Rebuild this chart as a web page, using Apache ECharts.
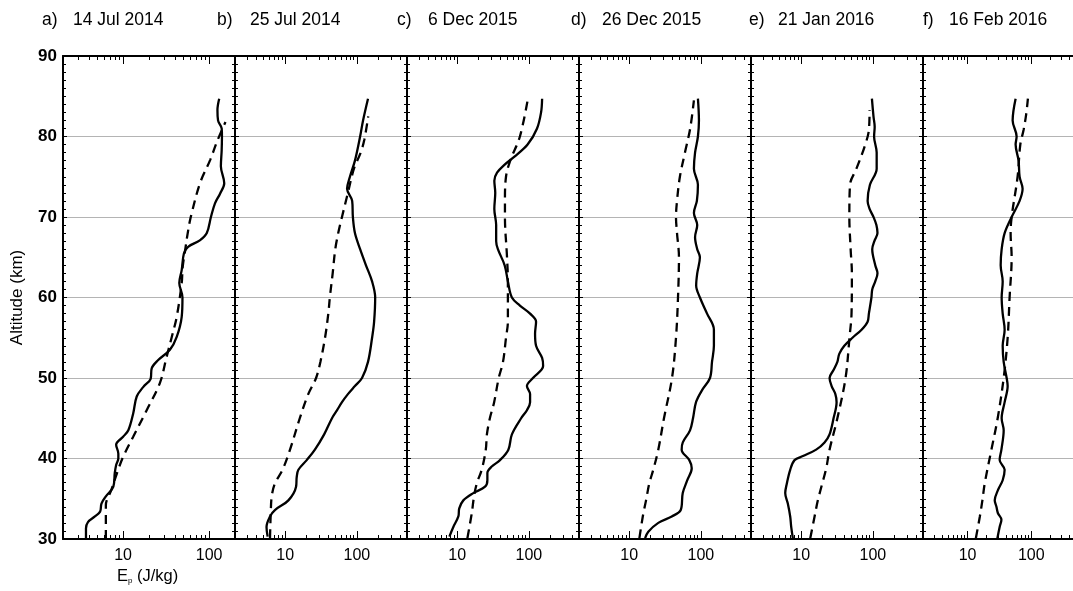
<!DOCTYPE html>
<html>
<head>
<meta charset="utf-8">
<script src="https://cdn.jsdelivr.net/npm/echarts@6/dist/echarts.min.js"></script>
<style>
  html, body { margin: 0; padding: 0; background: #ffffff; overflow: hidden; }
  #main { width: 1100px; height: 591px; }
</style>
</head>
<body>
<div id="main"></div>
<script>
// Potential energy profiles Ep (J/kg) versus altitude (km), six soundings.
const panelTags = ['a)', 'b)', 'c)', 'd)', 'e)', 'f)'];
const panelDates = ['14 Jul 2014', '25 Jul 2014', '6 Dec 2015', '26 Dec 2015', '21 Jan 2016', '16 Feb 2016'];
const epMin = 2;
const epMax = [200, 500, 500, 500, 500, 1000];
const epLabels = [10, 100];
const altMin = 30, altMax = 90, altStep = 10;

// a) 14 Jul 2014
const altA = [30.0, 31.3, 32.1, 32.8, 33.4, 34.4, 35.3, 36.5, 38.2, 39.2, 40.0, 40.6, 41.7, 42.7, 43.5, 45.6, 47.7, 48.9, 49.9, 51.2, 52.2, 53.5, 55.1, 57.6, 60.0, 61.8, 63.4, 65.5, 66.3, 67.1, 68.0, 70.0, 71.7, 72.9, 74.2, 76.3, 78.3, 80.0, 81.0, 82.0, 83.3, 84.7];
const epA  = [3.7, 3.7, 3.9, 4.7, 5.4, 5.6, 6.3, 7.7, 8.0, 8.3, 8.8, 8.8, 8.3, 10.0, 11.5, 13.1, 14.4, 17.2, 20.9, 21.5, 25.4, 35, 42, 48, 49, 45, 48, 51, 57, 78, 94, 105, 117, 134, 150, 137, 140, 141, 140, 127, 125, 131];
const altFitA = [30.0, 34.2, 36.1, 38.2, 40.2, 42.7, 46.0, 49.4, 52.6, 55.1, 57.6, 61.8, 63.8, 65.9, 68.0, 70.0, 74.2, 77.1, 79.5, 81.8];
const epFitA  = [6.3, 6.3, 7.3, 8.5, 10.0, 13.1, 18.8, 26.8, 32, 36.8, 42, 48, 49.3, 52.7, 56.4, 61.2, 78.4, 103, 125, 155];

// b) 25 Jul 2014
const altB = [30.3, 31.5, 32.8, 33.6, 34.8, 36.5, 37.7, 38.6, 39.8, 41.1, 43.0, 45.0, 46.0, 47.0, 48.0, 49.0, 50.0, 52.0, 55.0, 57.0, 60.0, 62.0, 64.0, 66.0, 68.0, 70.0, 72.0, 73.5, 75.0, 77.0, 80.0, 82.0, 84.7];
const epB  = [5.7, 5.5, 6.15, 7.2, 11.1, 14.2, 14.5, 15.3, 20, 26, 35, 45, 53, 62, 75, 94, 118, 143, 163, 174, 180, 163, 134, 111, 94, 88, 86, 73, 80, 94, 111, 122, 143];
const altFitB = [30.1, 33.2, 35.3, 36.9, 38.6, 41.1, 45.0, 48.0, 50.0, 52.0, 55.0, 58.0, 60.0, 63.0, 66.0, 68.0, 70.0, 73.0, 76.0, 78.0, 79.6, 82.5];
const epFitB  = [6.15, 6.3, 6.5, 7.2, 9.2, 11.7, 16, 21, 27, 31, 36, 40, 42, 46, 50, 55, 62, 75, 91, 113, 127, 144];

// c) 6 Dec 2015
const altC = [30.3, 31.5, 32.8, 33.8, 34.8, 35.7, 36.5, 37.3, 38.2, 39.0, 39.8, 41.1, 43.0, 45.0, 46.0, 47.0, 48.0, 49.0, 50.0, 51.5, 52.5, 54.0, 55.5, 57.0, 58.0, 59.0, 60.0, 62.0, 64.0, 66.0, 67.0, 69.0, 71.0, 73.0, 74.5, 75.5, 76.5, 77.5, 79.0, 81.0, 83.0, 84.7];
const epC  = [7.8, 8.85, 10.4, 10.7, 12.2, 16.8, 24.5, 26.4, 26.4, 30.4, 39.6, 51.8, 58, 78, 94, 104, 104, 94, 114, 158, 153, 126, 122, 126, 104, 75, 58, 51, 46, 37, 35, 35, 33, 34, 33, 36, 46, 63, 96, 130, 148, 153];
const altFitC = [30.1, 33.2, 35.3, 36.9, 38.6, 41.1, 43.0, 45.0, 47.0, 50.0, 52.0, 55.0, 57.0, 60.0, 62.0, 65.0, 70.0, 72.0, 75.0, 77.0, 80.0, 84.7];
const epFitC  = [13.9, 16.0, 17.2, 18.8, 22.0, 25.1, 26, 28.6, 32.8, 38, 43.6, 48, 51, 51, 51, 49.6, 46.4, 46.4, 48, 55, 75, 97];

// d) 26 Dec 2015
const altD = [30.1, 30.9, 32.0, 32.8, 33.6, 35.7, 37.3, 38.8, 39.8, 41.1, 42.0, 43.5, 45.0, 47.0, 48.5, 50.0, 52.0, 54.0, 56.0, 58.0, 60.0, 61.5, 63.0, 65.0, 66.0, 67.5, 69.0, 70.5, 72.0, 74.0, 76.0, 78.0, 80.0, 82.0, 84.7];
const epD  = [16.7, 18.5, 25.5, 39.3, 52.4, 55.9, 64.7, 74.6, 69, 54, 56, 70.6, 77.7, 85.6, 104, 134, 143, 152, 152, 122, 97, 86, 89, 97, 89, 83, 89, 80, 88, 91, 80, 83, 91, 94, 91];
const altFitD = [30.1, 32.8, 34.8, 36.9, 38.6, 41.1, 45.0, 50.0, 55.0, 60.0, 65.0, 68.0, 70.0, 72.0, 75.0, 78.0, 81.0, 84.5];
const epFitD  = [13.9, 15.5, 17.2, 19.1, 21.7, 25.5, 30.6, 39.6, 45, 48, 49.5, 46.5, 45, 46.5, 51, 60, 71, 80];

// e) 21 Jan 2016
const altE = [30.1, 31.5, 32.8, 34.4, 35.7, 36.9, 38.6, 39.8, 40.3, 41.1, 42.0, 43.0, 45.0, 47.0, 48.0, 49.0, 50.0, 51.0, 52.0, 53.0, 54.0, 55.0, 56.0, 57.0, 58.0, 60.0, 61.0, 62.0, 63.0, 64.0, 66.0, 67.0, 68.0, 69.0, 70.0, 71.0, 72.0, 74.0, 76.0, 78.0, 80.0, 81.2, 82.5, 84.7];
const epE  = [7.66, 7.27, 7.04, 6.52, 6.0, 6.32, 7.04, 8.09, 10.6, 16.2, 21.2, 24.9, 28.3, 31.2, 30, 26.6, 24.9, 28.3, 32, 34, 40, 52, 69.6, 84.5, 88, 95.5, 98, 108, 116, 108, 98, 105, 116, 112, 102, 90, 84.5, 91, 113, 113, 104, 106, 102, 97];
const altFitE = [30.1, 32.8, 34.8, 36.9, 38.8, 41.1, 45.0, 50.0, 55.0, 58.0, 63.0, 66.0, 70.0, 74.0, 76.0, 78.8, 80.8, 83.3];
const epFitE  = [13.4, 15.4, 17.1, 19.7, 22.4, 24.9, 32, 41.6, 47.2, 50.4, 51, 49, 47, 48, 59, 77, 88, 90];

// f) 16 Feb 2016
const altF = [30.1, 31.5, 32.4, 33.2, 34.0, 34.8, 36.1, 37.3, 38.6, 39.8, 41.1, 43.5, 45.0, 47.0, 49.0, 50.0, 52.0, 54.0, 56.0, 58.0, 60.0, 62.0, 64.0, 66.0, 68.0, 70.0, 72.0, 73.5, 75.0, 77.0, 79.0, 80.0, 82.0, 84.7];
const epF  = [29.4, 31.9, 34, 30, 28.4, 26.7, 30.1, 35.6, 38.2, 31.9, 34, 36.9, 34.3, 38.2, 42.6, 41.1, 36.9, 35.6, 38.2, 35.6, 34.3, 35.6, 33.1, 34.3, 38.2, 49.2, 65.6, 73.1, 65.6, 63.2, 56.8, 58.9, 51, 56.8];
const altFitF = [30.1, 32.8, 34.8, 36.9, 41.1, 45.0, 50.0, 55.0, 60.0, 65.0, 68.0, 70.0, 75.0, 79.0, 80.8, 82.8, 84.7];
const epFitF  = [13.5, 15.6, 17.1, 18.6, 23.7, 29.7, 36.9, 42.6, 45.7, 49.2, 47.4, 49.2, 61, 67.3, 75.7, 83.4, 88.5];

const profiles = [
  [altA, epA, altFitA, epFitA],
  [altB, epB, altFitB, epFitB],
  [altC, epC, altFitC, epFitC],
  [altD, epD, altFitD, epFitD],
  [altE, epE, altFitE, epFitE],
  [altF, epF, altFitF, epFitF]
];

// ---- layout & styling ----
const FONT = 'Liberation Sans, Arial, Helvetica, sans-serif';
const PLOT_LEFT = 63, PLOT_TOP = 56, PLOT_W = 172, PLOT_H = 483;

function logTickValues(lo, hi) {
  const out = [];
  for (let d = 1; d <= 1000; d *= 10) {
    for (let m = 1; m < 10; m++) {
      const v = m * d;
      if (v > lo && v < hi) out.push(v);
    }
  }
  return out;
}

function toPairs(alt, ep) {
  return ep.map((v, k) => [v, alt[k]]);
}

const grids = [], xAxes = [], yAxes = [], series = [], graphics = [];
const frame = { show: true, onZero: false, lineStyle: { color: '#000', width: 2 } };

panelTags.forEach((tag, i) => {
  grids.push({ left: PLOT_LEFT + i * PLOT_W, top: PLOT_TOP, width: PLOT_W, height: PLOT_H, containLabel: false });
  const minorVals = logTickValues(epMin, epMax[i]);
  const base = { type: 'log', logBase: 10, min: epMin, max: epMax[i], gridIndex: i, splitLine: { show: false }, minorTick: { show: false } };

  ['bottom', 'top'].forEach(pos => {
    // short ticks at every 1..9 x decade, plus labels on the bottom axis
    xAxes.push(Object.assign({}, base, {
      position: pos,
      axisLine: frame,
      axisTick: { show: true, inside: true, length: 4, customValues: minorVals, lineStyle: { color: '#000', width: 1 } },
      axisLabel: pos === 'bottom' ? {
        show: true, customValues: epLabels, margin: 9, color: '#000', fontFamily: FONT, fontSize: 16,
        formatter: v => String(Math.round(v))
      } : { show: false }
    }));
    // long ticks at the decades
    xAxes.push(Object.assign({}, base, {
      position: pos,
      axisLine: { show: false, onZero: false },
      axisTick: { show: true, inside: true, length: 8, customValues: epLabels, lineStyle: { color: '#000', width: 1 } },
      axisLabel: { show: false }
    }));
  });

  const yBase = {
    type: 'value', min: altMin, max: altMax, interval: altStep, gridIndex: i,
    axisLine: frame,
    axisTick: { show: true, inside: true, length: 4, lineStyle: { color: '#000', width: 1 } },
    minorTick: { show: true, splitNumber: 10, length: 3, lineStyle: { color: '#000', width: 1 } }
  };
  yAxes.push(Object.assign({}, yBase, {
    position: 'left',
    splitLine: { show: true, lineStyle: { color: '#b4b4b4', width: 1 } },
    axisLabel: i === 0 ? { show: true, margin: 6, color: '#000', fontFamily: FONT, fontSize: 17, fontWeight: 'bold' } : { show: false },
    name: i === 0 ? 'Altitude (km)' : '',
    nameLocation: 'middle',
    nameGap: 37,
    nameTextStyle: { color: '#000', fontFamily: FONT, fontSize: 17 }
  }));
  yAxes.push(Object.assign({}, yBase, {
    position: 'right',
    splitLine: { show: false },
    axisLabel: { show: false }
  }));

  const [alt, ep, altFit, epFit] = profiles[i];
  series.push({
    type: 'line', xAxisIndex: i * 4, yAxisIndex: i * 2,
    data: toPairs(alt, ep), showSymbol: false, smooth: 0.35,
    lineStyle: { color: '#000', width: 2.3, type: 'solid' }, z: 5
  });
  series.push({
    type: 'line', xAxisIndex: i * 4, yAxisIndex: i * 2,
    data: toPairs(altFit, epFit), showSymbol: false, smooth: 0.35,
    lineStyle: { color: '#000', width: 2.3, type: [9, 6] }, z: 5
  });
});

// panel headings
const tagX = [42, 217, 397, 571, 749, 923];
const dateX = [73, 250, 428, 602, 778, 949];
panelTags.forEach((tag, i) => {
  graphics.push({ type: 'text', left: tagX[i], top: 11, style: { text: tag, fill: '#000', font: '17.5px ' + FONT } });
  graphics.push({ type: 'text', left: dateX[i], top: 11, style: { text: panelDates[i], fill: '#000', font: '17.5px ' + FONT } });
});
// x-axis title with subscript
graphics.push({
  type: 'text', left: 117, top: 568,
  style: {
    text: '{e|E}{s|p}{e| (J/kg)}',
    rich: {
      e: { fontFamily: FONT, fontSize: 16.5, fill: '#000', color: '#000' },
      s: { fontFamily: FONT, fontSize: 8, fill: '#000', color: '#000', verticalAlign: 'bottom', padding: [8, 0, 0, 0] }
    }
  }
});

const chart = echarts.init(document.getElementById('main'), null, { renderer: 'canvas' });
chart.setOption({
  backgroundColor: '#ffffff',
  animation: false,
  grid: grids,
  xAxis: xAxes,
  yAxis: yAxes,
  series: series,
  graphic: graphics
});
</script>
</body>
</html>
